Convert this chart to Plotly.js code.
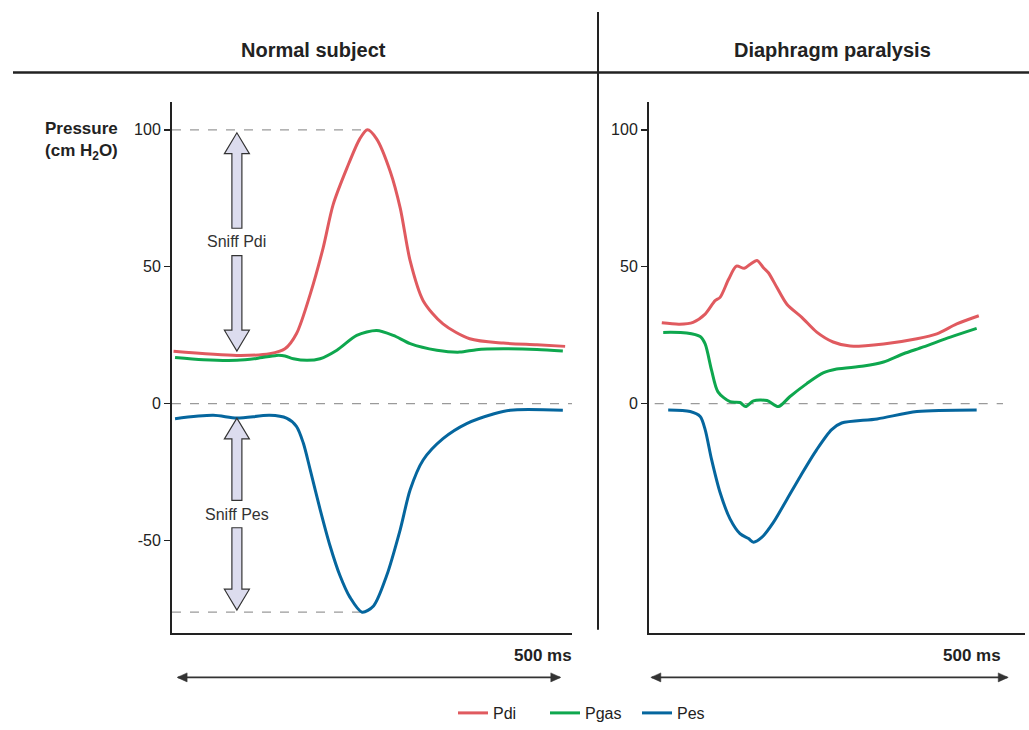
<!DOCTYPE html>
<html>
<head>
<meta charset="utf-8">
<script src="https://cdn.plot.ly/plotly-3.0.1.min.js"></script>
<style>html,body{margin:0;padding:0;background:#fff;}#chart{width:1029px;height:730px;}</style>
</head>
<body>
<div id="chart"></div>
<script>
// ---- Data (time in ms, pressure in cm H2O) ----
const panelTitles = ['Normal subject', 'Diaphragm paralysis'];
const seriesNames = ['Pdi', 'Pgas', 'Pes'];

const normalPdiT = [-6, 77, 120, 140, 155, 173, 190, 203, 221, 238, 248, 260, 278, 291, 304, 321, 347, 382, 426, 470, 507];
const normalPdi  = [19.1, 17.6, 18.2, 20.0, 25.5, 39.9, 56.9, 72.6, 85.9, 96.7, 100, 96.7, 84.7, 71.4, 52.1, 37.6, 29.1, 23.7, 22.1, 21.5, 20.9];

const normalPgasT = [-4, 33, 77, 103, 129, 140, 151, 169, 186, 208, 234, 260, 282, 304, 339, 369, 391, 426, 470, 504];
const normalPgas  = [16.8, 16.0, 15.8, 16.5, 17.6, 17.4, 16.4, 15.8, 16.4, 19.5, 24.9, 26.7, 24.9, 21.9, 19.5, 18.8, 19.7, 20.0, 19.8, 19.2];

const normalPesT = [-4, 46, 77, 120, 142, 155, 164, 173, 186, 199, 212, 225, 241, 256, 273, 291, 304, 321, 347, 378, 414, 435, 504];
const normalPes  = [-5.5, -4.3, -5.3, -4.3, -5.3, -8.3, -14.4, -24.1, -38.6, -51.9, -62.8, -70.7, -76.2, -73.9, -63.0, -46.0, -31.5, -20.6, -12.8, -7.3, -3.7, -2.4, -2.4];

const paralysisPdiT = [14, 39, 58, 75, 89, 96, 108, 119, 130, 138, 148, 157, 164, 176, 190, 211, 232, 255, 279, 326, 373, 401, 429, 460];
const paralysisPdi  = [29.5, 29.0, 29.7, 32.7, 37.6, 38.8, 45.4, 50.2, 49.4, 50.8, 52.3, 49.6, 47.8, 42.4, 36.3, 31.5, 26.1, 22.5, 21.0, 21.8, 23.7, 25.5, 29.1, 32.1];

const paralysisPgasT = [16, 49, 68, 75, 84, 93, 110, 124, 132, 143, 162, 178, 194, 218, 241, 260, 298, 326, 354, 382, 420, 457];
const paralysisPgas  = [26.0, 25.8, 24.5, 21.8, 12.2, 4.3, 0.7, 0.4, -1.1, 1.0, 1.1, -1.1, 2.5, 7.3, 11.2, 12.6, 13.7, 15.2, 18.2, 20.7, 24.3, 27.5];

const paralysisPesT = [23, 54, 68, 75, 84, 96, 110, 124, 136, 143, 155, 171, 190, 209, 232, 253, 267, 317, 373, 457];
const paralysisPes  = [-2.3, -2.9, -4.7, -9.5, -20.4, -32.5, -42.1, -47.5, -49.3, -50.6, -48.8, -43.4, -35.0, -26.5, -16.8, -9.5, -7.1, -5.6, -2.9, -2.3];

const leftTickVals = [-50, 0, 50, 100];
const leftTickText = ['-50', '0', '50', '100'];
const rightTickVals = [0, 50, 100];
const rightTickText = ['0', '50', '100'];
const scaleBarMs = 500;
const sniffTime = 77;   // time where the sniff arrows are drawn

// ---- Styles ----
const colors = {Pdi: '#e05a5f', Pgas: '#0ea74e', Pes: '#05669e'};
const FONT = 'Liberation Sans, Arial, Helvetica, sans-serif';
const INK = '#222';

function tr(x, y, name, xa, ya, show) {
  return {x: x, y: y, name: name, type: 'scatter', mode: 'lines', xaxis: xa, yaxis: ya,
    showlegend: show, hoverinfo: 'skip',
    line: {color: colors[name], width: 3, shape: 'spline', smoothing: 0.8}};
}

const data = [
  tr(normalPdiT, normalPdi, 'Pdi', 'x', 'y', true),
  tr(normalPgasT, normalPgas, 'Pgas', 'x', 'y', true),
  tr(normalPesT, normalPes, 'Pes', 'x', 'y', true),
  tr(paralysisPdiT, paralysisPdi, 'Pdi', 'x2', 'y2', false),
  tr(paralysisPgasT, paralysisPgas, 'Pgas', 'x2', 'y2', false),
  tr(paralysisPesT, paralysisPes, 'Pes', 'x2', 'y2', false)
];

// derived reference levels
const pdiPeak = Math.max(...normalPdi);
const pdiPeakT = normalPdiT[normalPdi.indexOf(pdiPeak)];
const pesTrough = Math.min(...normalPes);
const pesTroughT = normalPesT[normalPes.indexOf(pesTrough)];
function interp(ts, vs, t) {
  for (let i = 0; i < ts.length - 1; i++) {
    if (t >= ts[i] && t <= ts[i + 1]) return vs[i] + (vs[i + 1] - vs[i]) * (t - ts[i]) / (ts[i + 1] - ts[i]);
  }
  return vs[0];
}
const pdiBase = interp(normalPdiT, normalPdi, sniffTime);
const pesBase = interp(normalPesT, normalPes, sniffTime);

const xRangeL = [-8, 516];
const xRangeR = [-4, 525];
const yRange = [-83.7, 110.1];

const dash = {color: '#9a9a9a', width: 1.3, dash: 'dash'};
const shapes = [
  {type: 'line', xref: 'x', yref: 'y', x0: xRangeL[0], x1: pdiPeakT, y0: pdiPeak, y1: pdiPeak, line: dash, layer: 'below'},
  {type: 'line', xref: 'x', yref: 'y', x0: xRangeL[0], x1: xRangeL[1], y0: 0, y1: 0, line: dash, layer: 'below'},
  {type: 'line', xref: 'x', yref: 'y', x0: xRangeL[0], x1: pesTroughT, y0: pesTrough, y1: pesTrough, line: dash, layer: 'below'},
  {type: 'line', xref: 'x2', yref: 'y2', x0: 4, x1: 494, y0: 0, y1: 0, line: dash, layer: 'below'},
  // header rule and divider
  {type: 'line', xref: 'paper', yref: 'paper', x0: 13 / 1029, x1: 1, y0: 0.9, y1: 0.9, line: {color: INK, width: 2.5}},
  {type: 'line', xref: 'paper', yref: 'paper', x0: 598 / 1029, x1: 598 / 1029, y0: 1 - 635 / 730, y1: 1 - 12 / 730, line: {color: INK, width: 2}}
];

// time scale bars (double-headed arrows) below each panel
const barY = 1 - 683 / 730;
['x', 'x2'].forEach(function (xr) {
  shapes.push({type: 'line', xref: xr, yref: 'paper', x0: 0, x1: scaleBarMs, y0: barY, y1: barY, line: {color: '#333', width: 1.6}});
  shapes.push({type: 'path', xref: xr, yref: 'paper', xsizemode: 'pixel', xanchor: 0, ysizemode: 'pixel', yanchor: barY,
    path: 'M -1,0 L 9,4.5 L 9,-4.5 Z', fillcolor: '#333', line: {color: '#333', width: 0.5}});
  shapes.push({type: 'path', xref: xr, yref: 'paper', xsizemode: 'pixel', xanchor: scaleBarMs, ysizemode: 'pixel', yanchor: barY,
    path: 'M 1,0 L -9,4.5 L -9,-4.5 Z', fillcolor: '#333', line: {color: '#333', width: 0.5}});
});

// Fat double arrows (x in pixels around anchor, y in data units)
const headH = 7.6, shaftW = 5, headW = 12.5, gap = 5;
function upArrow(tip, end) {
  const hb = tip - headH;
  return `M ${-shaftW},${end} L ${-shaftW},${hb} L ${-headW},${hb} L 0,${tip} L ${headW},${hb} L ${shaftW},${hb} L ${shaftW},${end} Z`;
}
function downArrow(tip, end) {
  const hb = tip + headH;
  return `M ${-shaftW},${end} L ${-shaftW},${hb} L ${-headW},${hb} L 0,${tip} L ${headW},${hb} L ${shaftW},${hb} L ${shaftW},${end} Z`;
}
function sniffArrows(top, bottom) {
  const mid = (top + bottom) / 2;
  const base = {type: 'path', xref: 'x', yref: 'y', xsizemode: 'pixel', xanchor: sniffTime,
    fillcolor: '#dcdcee', line: {color: '#333', width: 1.2}};
  return [Object.assign({}, base, {path: upArrow(top, mid + gap)}),
          Object.assign({}, base, {path: downArrow(bottom, mid - gap)})];
}
const pdiTop = pdiPeak - 1.1, pdiBot = pdiBase + 1.6;
const pesTop = pesBase, pesBot = pesTrough + 0.8;
shapes.push(...sniffArrows(pdiTop, pdiBot), ...sniffArrows(pesTop, pesBot));

const annotations = [
  {xref: 'paper', yref: 'paper', x: 313 / 1029, y: 1 - 50 / 730, xanchor: 'center', yanchor: 'middle', text: '<b>' + panelTitles[0] + '</b>', showarrow: false, font: {family: FONT, size: 20, color: INK}},
  {xref: 'paper', yref: 'paper', x: 832 / 1029, y: 1 - 50 / 730, xanchor: 'center', yanchor: 'middle', text: '<b>' + panelTitles[1] + '</b>', showarrow: false, font: {family: FONT, size: 20, color: INK}},
  {xref: 'paper', yref: 'paper', x: 120 / 1029, y: 1 - 142 / 730, xanchor: 'right', yanchor: 'middle', align: 'right', text: '<b>Pressure<br>(cm H<sub>2</sub>O)</b>', showarrow: false, font: {family: FONT, size: 17, color: INK}},
  {xref: 'x', yref: 'y', x: sniffTime, y: (pdiTop + pdiBot) / 2, xanchor: 'center', yanchor: 'middle', text: 'Sniff Pdi', showarrow: false, font: {family: FONT, size: 16, color: '#333'}},
  {xref: 'x', yref: 'y', x: sniffTime, y: (pesTop + pesBot) / 2, xanchor: 'center', yanchor: 'middle', text: 'Sniff Pes', showarrow: false, font: {family: FONT, size: 16, color: '#333'}},
  {xref: 'paper', yref: 'paper', x: 574 / 1029, y: 1 - 661 / 730, xanchor: 'right', yanchor: 'middle', text: '<b>' + scaleBarMs + ' ms</b>', showarrow: false, font: {family: FONT, size: 17, color: INK}},
  {xref: 'paper', yref: 'paper', x: 1003 / 1029, y: 1 - 661 / 730, xanchor: 'right', yanchor: 'middle', text: '<b>' + scaleBarMs + ' ms</b>', showarrow: false, font: {family: FONT, size: 17, color: INK}}
];

const yDomain = [1 - 638 / 730, 1 - 103 / 730];
const xAxisCommon = {showline: true, linecolor: INK, linewidth: 2, showgrid: false, zeroline: false, showticklabels: false, ticks: '', fixedrange: true};
const yAxisCommon = {showline: true, linecolor: INK, linewidth: 2, showgrid: false, zeroline: false, ticks: 'outside', ticklen: 6, tickwidth: 1.5, tickcolor: INK,
  tickfont: {family: FONT, size: 16, color: INK}, range: yRange, tickmode: 'array', fixedrange: true};

const layout = {
  width: 1029, height: 730,
  margin: {l: 0, r: 0, t: 0, b: 0},
  paper_bgcolor: '#fff', plot_bgcolor: 'rgba(0,0,0,0)',
  font: {family: FONT, color: INK},
  xaxis: Object.assign({}, xAxisCommon, {domain: [172 / 1029, 572 / 1029], range: xRangeL, anchor: 'y'}),
  yaxis: Object.assign({}, yAxisCommon, {domain: yDomain, anchor: 'x', tickvals: leftTickVals, ticktext: leftTickText}),
  xaxis2: Object.assign({}, xAxisCommon, {domain: [649 / 1029, 1025 / 1029], range: xRangeR, anchor: 'y2'}),
  yaxis2: Object.assign({}, yAxisCommon, {domain: yDomain, anchor: 'x2', tickvals: rightTickVals, ticktext: rightTickText}),
  showlegend: true,
  legend: {orientation: 'h', x: 453 / 1029, xanchor: 'left', y: 1 - 719 / 730, yanchor: 'middle',
    font: {family: FONT, size: 16, color: INK}, itemwidth: 30, entrywidth: 47, entrywidthmode: 'pixels', bgcolor: 'rgba(0,0,0,0)'},
  shapes: shapes,
  annotations: annotations
};

Plotly.newPlot('chart', data, layout, {staticPlot: true, displayModeBar: false});
</script>
</body>
</html>
